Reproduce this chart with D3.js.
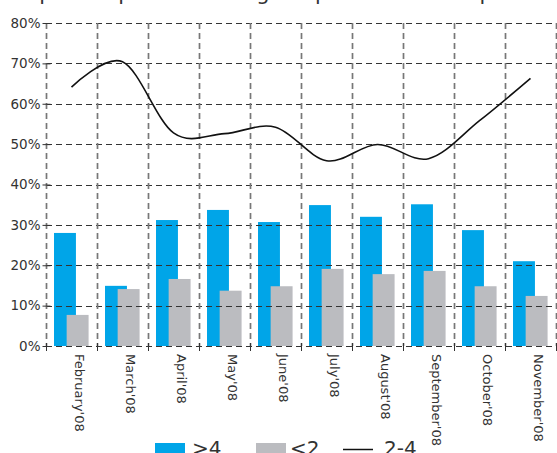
<!DOCTYPE html>
<html><head><meta charset="utf-8">
<script src="https://cdn.jsdelivr.net/npm/d3@7"></script>
<style>body{margin:0;background:#fff;} svg{display:block;font-family:"DejaVu Sans",sans-serif;}</style>
</head><body><svg id="c" width="557" height="453"></svg>
<script>
const months = ["February'08","March'08","April'08","May'08","June'08","July'08","August'08","September'08","October'08","November'08"];
const above4 = [28.0, 14.9, 31.2, 33.7, 30.7, 34.9, 32.0, 35.1, 28.7, 21.0];
const below2 = [7.7, 14.1, 16.6, 13.7, 14.8, 19.1, 17.8, 18.6, 14.8, 12.4];
const between2and4 = [64.1, 70.4, 52.8, 52.6, 54.2, 45.9, 49.9, 46.4, 55.8, 66.3];
const yTicks = [0, 10, 20, 30, 40, 50, 60, 70, 80];
const legendLabels = [">4", "<2", "2-4"];
const titleText = "Expected percent change in prices over the period";

const svg = d3.select("#c");
const L = 46, R = 556, T = 23, B = 346;
const x = d3.scaleBand().domain(months).range([L, R]).padding(0);
const y = d3.scaleLinear().domain([0, 80]).range([B, T]);
const bw = x.bandwidth();
const blue = "#00a5e8", gray = "#bbbcc0";

// title (mostly cut off at top, as in the reference)
svg.append("text").attr("x", 280).attr("y", 0).attr("text-anchor", "middle")
  .attr("font-size", 21).attr("fill", "#333").text(titleText);

// bars
const g = svg.append("g");
g.selectAll(".b4").data(months).join("rect")
  .attr("x", d => x(d) + bw * 0.157).attr("width", bw * 0.43)
  .attr("y", (d, i) => y(above4[i])).attr("height", (d, i) => B - y(above4[i]))
  .attr("fill", blue);
g.selectAll(".b2").data(months).join("rect")
  .attr("x", d => x(d) + bw * 0.405).attr("width", bw * 0.43)
  .attr("y", (d, i) => y(below2[i])).attr("height", (d, i) => B - y(below2[i]))
  .attr("fill", gray);

// horizontal gridlines
svg.append("g").selectAll("line").data(yTicks).join("line")
  .attr("x1", L).attr("x2", R).attr("y1", d => Math.round(y(d)) + 0.5).attr("y2", d => Math.round(y(d)) + 0.5)
  .attr("stroke", "#333").attr("stroke-width", 1.2).attr("stroke-dasharray", "6,4");

// vertical gridlines at band boundaries
const bounds = months.map(m => x(m)).concat([R]);
svg.append("g").selectAll("line").data(bounds).join("line")
  .attr("x1", d => Math.round(d) + 0.5).attr("x2", d => Math.round(d) + 0.5)
  .attr("y1", T).attr("y2", B)
  .attr("stroke", "#777").attr("stroke-width", 1.7).attr("stroke-dasharray", "6,4");

// y axis ticks + labels
const yAxis = d3.axisLeft(y).tickValues(yTicks).tickSize(5).tickFormat(d => d + "%");
const ya = svg.append("g").attr("transform", `translate(${L + 0.5},0)`).call(yAxis);
ya.select(".domain").remove();
ya.selectAll("line").attr("stroke", "#333").attr("x2", 4).attr("x1", -4);
ya.selectAll("text").attr("font-size", 13.5).attr("fill", "#333").attr("x", -6)
  .attr("font-family", "DejaVu Sans");

// x axis ticks at boundaries
svg.append("g").selectAll("line").data(bounds).join("line")
  .attr("x1", d => Math.round(d) + 0.5).attr("x2", d => Math.round(d) + 0.5)
  .attr("y1", B - 3).attr("y2", B + 5).attr("stroke", "#333");

// x labels (rotated)
svg.append("g").selectAll("text").data(months).join("text")
  .attr("transform", d => `translate(${x(d) + bw / 2 + 8},${B + 8}) rotate(90)`)
  .attr("dy", "0.35em").attr("font-size", 13).attr("fill", "#333")
  .text(d => d);

// line
const line = d3.line()
  .x((d, i) => x(months[i]) + bw / 2)
  .y(d => y(d))
  .curve(d3.curveCardinal.tension(0));
svg.append("path").datum(between2and4).attr("d", line)
  .attr("fill", "none").attr("stroke", "#111").attr("stroke-width", 1.6);

// legend
const lg = svg.append("g").attr("font-size", 20).attr("fill", "#333");
lg.append("rect").attr("x", 155).attr("y", 443).attr("width", 30).attr("height", 14).attr("fill", blue);
lg.append("text").attr("x", 192).attr("y", 455).text(legendLabels[0]);
lg.append("rect").attr("x", 256).attr("y", 443).attr("width", 30).attr("height", 14).attr("fill", gray);
lg.append("text").attr("x", 290).attr("y", 455).text(legendLabels[1]);
lg.append("line").attr("x1", 343).attr("x2", 373).attr("y1", 449.5).attr("y2", 449.5).attr("stroke", "#111").attr("stroke-width", 1.5);
lg.append("text").attr("x", 384).attr("y", 455).text(legendLabels[2]);
</script></body></html>
